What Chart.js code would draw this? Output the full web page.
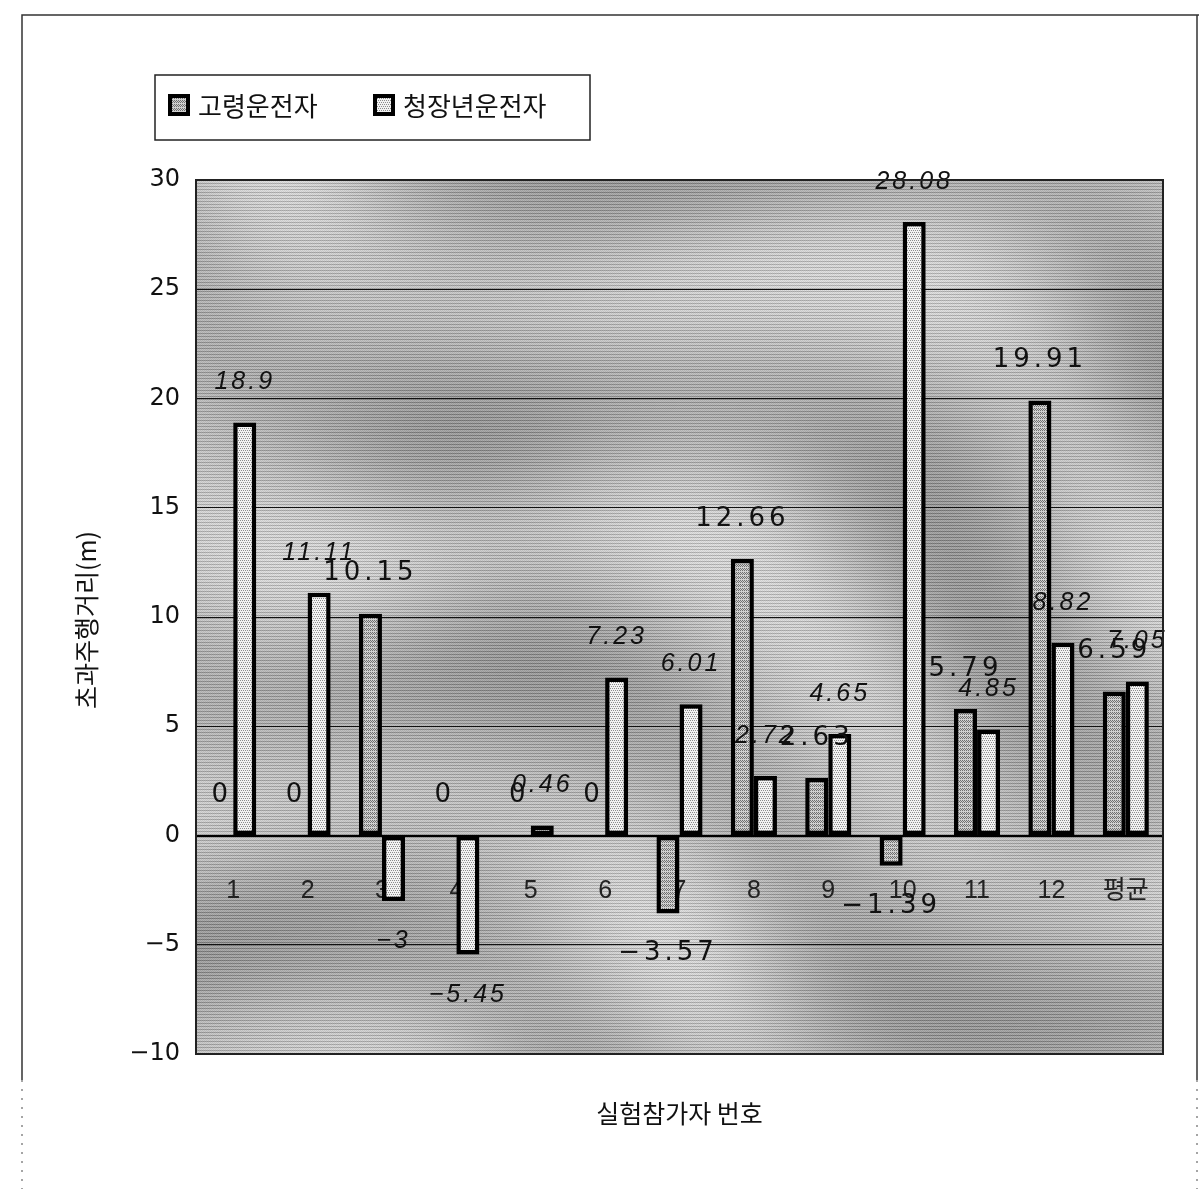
<!DOCTYPE html>
<html>
<head>
<meta charset="utf-8">
<title>초과주행거리</title>
<script src="https://cdn.jsdelivr.net/npm/chart.js@4.4.1/dist/chart.umd.min.js"></script>
<style>
  html, body { margin: 0; padding: 0; background: #fff; }
  #wrap { position: relative; width: 1199px; height: 1189px; }
</style>
</head>
<body>
<div id="wrap"><canvas id="c" width="1199" height="1189"></canvas></div>
<script>
// ---- data ----
const categories = ['1', '2', '3', '4', '5', '6', '7', '8', '9', '10', '11', '12', '평균'];
const elderly    = [0, 0, 10.15, 0, 0, 0, -3.57, 12.66, 2.63, -1.39, 5.79, 19.91, 6.59];
const youngAdult = [18.9, 11.11, -3, -5.45, 0.46, 7.23, 6.01, 2.72, 4.65, 28.08, 4.85, 8.82, 7.05];
const seriesNames = ['고령운전자', '청장년운전자'];
const yMin = -10, yMax = 30, yStep = 5;
const yTitle = '초과주행거리(m)';
const xTitle = '실험참가자 번호';

const KR = '"Noto Sans CJK KR", "Noto Sans", sans-serif';
const canvas = document.getElementById('c');
const ctx2d = canvas.getContext('2d');

// ---- fill patterns ----
function patternFrom(w, h, paint) {
  const c = document.createElement('canvas');
  c.width = w; c.height = h;
  paint(c.getContext('2d'));
  return ctx2d.createPattern(c, 'repeat');
}
const elderlyFill = patternFrom(4, 4, g => {
  g.fillStyle = '#d0d0d0'; g.fillRect(0, 0, 4, 4);
  g.fillStyle = '#707070';
  [[0,0],[2,0],[1,1],[3,1],[0,2],[2,2]].forEach(([x, y]) => g.fillRect(x, y, 1, 1));
});
const youngFill = patternFrom(4, 4, g => {
  g.fillStyle = '#f2f2f2'; g.fillRect(0, 0, 4, 4);
  g.fillStyle = '#8c8c8c';
  [[0,0],[2,0],[1,2],[3,2]].forEach(([x, y]) => g.fillRect(x, y, 1, 1));
});

// marbled halftone texture for the plot area
function buildTexture(w, h) {
  const c = document.createElement('canvas');
  c.width = w; c.height = h;
  const g = c.getContext('2d');
  const img = g.createImageData(w, h);
  const d = img.data;
  for (let y = 0; y < h; y++) {
    for (let x = 0; x < w; x++) {
      const b1 = Math.sin((x * 0.45 - y * 1.1) / 60 + 1.8 * Math.sin(x / 170 + y / 240));
      const b2 = Math.sin((x * 0.9 + y * 0.4) / 85 + 1.4 * Math.cos(y / 130 - x / 300));
      let v = 178 + 18 * b1 + 10 * b2;
      v += (y % 3 === 0) ? -30 : 12;
      v += ((x + y) & 1) ? 8 : -8;
      v = Math.max(60, Math.min(250, v));
      const i = (y * w + x) * 4;
      d[i] = d[i + 1] = d[i + 2] = v; d[i + 3] = 255;
    }
  }
  g.putImageData(img, 0, 0);
  return c;
}
let texture = null;

const fmt = v => String(v).replace('-', '−');

// plot-area background, frame and surrounding decorations
const backdrop = {
  id: 'backdrop',
  beforeDraw(chart) {
    const { ctx, chartArea: a } = chart;
    const w = Math.round(a.right - a.left), h = Math.round(a.bottom - a.top);
    if (!texture || texture.width !== w || texture.height !== h) texture = buildTexture(w, h);
    ctx.save();
    ctx.drawImage(texture, a.left, a.top);
    // outer frame
    ctx.strokeStyle = '#333';
    ctx.lineWidth = 1.5;
    ctx.beginPath();
    ctx.moveTo(22, 1080); ctx.lineTo(22, 15); ctx.lineTo(1199, 15);
    ctx.moveTo(1197, 15); ctx.lineTo(1197, 1080);
    ctx.stroke();
    ctx.setLineDash([2, 7]);
    ctx.strokeStyle = '#888';
    ctx.beginPath();
    ctx.moveTo(22, 1080); ctx.lineTo(22, 1189);
    ctx.moveTo(1197, 1080); ctx.lineTo(1197, 1189);
    ctx.stroke();
    ctx.restore();
  },
  afterDraw(chart) {
    const { ctx, chartArea: a } = chart;
    ctx.save();
    ctx.strokeStyle = '#222';
    ctx.lineWidth = 2;
    ctx.strokeRect(a.left, a.top, a.right - a.left, a.bottom - a.top);

    // legend
    ctx.letterSpacing = '0px';
    ctx.fillStyle = '#fff';
    ctx.fillRect(155, 75, 435, 65);
    ctx.strokeStyle = '#222';
    ctx.lineWidth = 1.5;
    ctx.strokeRect(155, 75, 435, 65);
    const items = [{ sx: 168, tx: 198 }, { sx: 373, tx: 403 }];
    const fills = [elderlyFill, youngFill];
    items.forEach((it, i) => {
      ctx.fillStyle = '#000';
      ctx.fillRect(it.sx, 94, 22, 22);
      ctx.fillStyle = fills[i];
      ctx.fillRect(it.sx + 4, 98, 14, 14);
      ctx.fillStyle = '#111';
      ctx.font = '26px ' + KR;
      ctx.textAlign = 'left';
      ctx.textBaseline = 'middle';
      ctx.fillText(seriesNames[i], it.tx, 106);
    });

    // axis titles
    ctx.font = '25px ' + KR;
    ctx.textAlign = 'center';
    ctx.textBaseline = 'middle';
    ctx.fillStyle = '#111';
    ctx.fillText(xTitle, (a.left + a.right) / 2, 1113);
    ctx.translate(86, (a.top + a.bottom) / 2 + 3);
    ctx.rotate(-Math.PI / 2);
    ctx.fillText(yTitle, 0, 0);
    ctx.restore();
  }
};

// value labels beside the end of each bar
const valueLabels = {
  id: 'valueLabels',
  afterDatasetsDraw(chart) {
    const { ctx } = chart;
    const styles = [
      { font: '26px "DejaVu Sans", sans-serif', spacing: '4px' },
      { font: 'italic 25px "Liberation Sans", sans-serif', spacing: '3px' }
    ];
    chart.data.datasets.forEach((ds, di) => {
      const meta = chart.getDatasetMeta(di);
      ctx.save();
      ctx.font = styles[di].font;
      ctx.letterSpacing = styles[di].spacing;
      ctx.fillStyle = '#111';
      ctx.textAlign = 'center';
      ctx.textBaseline = 'middle';
      meta.data.forEach((bar, i) => {
        const v = ds.data[i];
        const y = v >= 0 ? bar.y - 40 : bar.y + 40;
        ctx.fillText(fmt(v), bar.x, y);
      });
      ctx.restore();
    });
  }
};

ctx2d.letterSpacing = '3px';

new Chart(canvas, {
  type: 'bar',
  data: {
    labels: categories,
    datasets: [
      { label: seriesNames[0], data: elderly, backgroundColor: elderlyFill },
      { label: seriesNames[1], data: youngAdult, backgroundColor: youngFill }
    ]
  },
  options: {
    responsive: false,
    devicePixelRatio: 1,
    animation: false,
    layout: { padding: { left: 60, right: 36, top: 180, bottom: 135 } },
    datasets: {
      bar: {
        barPercentage: 1,
        categoryPercentage: 0.62,
        borderColor: '#000',
        borderWidth: 4.5,
        borderSkipped: false
      }
    },
    plugins: {
      legend: { display: false },
      tooltip: { enabled: false },
      title: { display: false }
    },
    scales: {
      x: {
        position: { y: 0 },
        grid: { display: false },
        border: { display: true, color: '#000', width: 2 },
        ticks: {
          color: '#222',
          padding: 33,
          maxRotation: 0,
          autoSkip: false,
          font: { family: '"Liberation Sans", ' + KR, size: 25 }
        }
      },
      y: {
        min: yMin,
        max: yMax,
        afterFit(scale) { scale.width = 136; },
        grid: { color: '#111', lineWidth: 1, drawTicks: false },
        border: { display: true, color: '#222', width: 2 },
        ticks: {
          stepSize: yStep,
          padding: 16,
          color: '#111',
          font: { family: '"DejaVu Sans", sans-serif', size: 24 },
          callback: v => fmt(v)
        }
      }
    }
  },
  plugins: [backdrop, valueLabels]
});
</script>
</body>
</html>
